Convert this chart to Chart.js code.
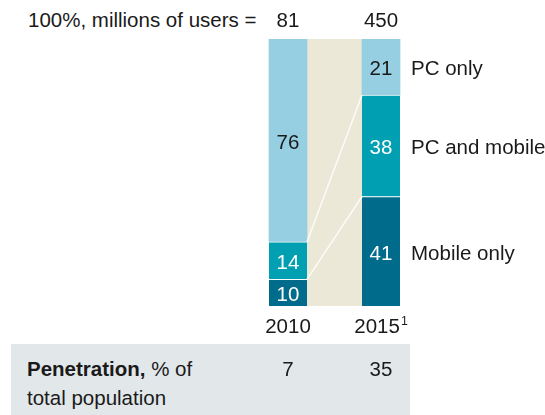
<!DOCTYPE html>
<html>
<head>
<meta charset="utf-8">
<script src="https://cdn.jsdelivr.net/npm/chart.js@4"></script>
<style>
    body { margin: 0; background: #fff; font-family: "Liberation Sans", Arial, sans-serif; color: #1a1a1a; }
    .lienzo { position: relative; width: 545px; height: 415px; overflow: hidden; }
    .titulo { position: absolute; left: 28px; top: 8px; font-size: 20.5px; line-height: 24px; white-space: nowrap; }
    .caja-penetracion { position: absolute; left: 11px; top: 344px; width: 399px; height: 71px; background: #e2e7ea; }
    .texto-penetracion { position: absolute; left: 27px; top: 354px; font-size: 20.5px; line-height: 29px; }
    .texto-penetracion b { font-weight: bold; }
    canvas { position: absolute; left: 0; top: 0; }
</style>
</head>
<body>
<div class="lienzo">
    <div class="caja-penetracion"></div>
    <div class="titulo">100%, millions of users =</div>
    <div class="texto-penetracion"><b>Penetration,</b> % of<br>total population</div>
    <canvas id="graficoUsuarios" width="545" height="415"></canvas>
</div>

<script>
// ==============================================================================
// 1. DATOS DEL GRAFICO
// ==============================================================================

const categorias = ['2010', '2015'];
const notasCategoria = ['', '1'];
const totalUsuarios = [81, 450];
const penetracion = [7, 35];

const soloMovil = [10, 41];
const pcYMovil = [14, 38];
const soloPC = [76, 21];

const nombresSeries = ['Mobile only', 'PC and mobile', 'PC only'];

// ==============================================================================
// 2. ESTILOS
// ==============================================================================

const COLOR_TEXTO = '#1a1a1a';
const FUENTE = '"Liberation Sans", Arial, sans-serif';
const TAM = 20.5;
const coloresSeries = ['#006b8a', '#009fb2', '#96cfe1'];
const coloresEtiqueta = ['#ffffff', '#ffffff', COLOR_TEXTO];

// linea base de texto a partir del centro visual de las cifras
function base(centroY) {
    return centroY + TAM * 0.358;
}

// ==============================================================================
// 3. PLUGIN: banda beige, conectores y textos
// ==============================================================================

const pluginDecoracion = {
    id: 'decoracion',
    beforeDatasetsDraw(chart) {
        const ctx = chart.ctx;
        const area = chart.chartArea;
        const barrasA = chart.getDatasetMeta(0).data;
        const izq = barrasA[0].x + barrasA[0].width / 2;
        const der = barrasA[1].x - barrasA[1].width / 2;
        ctx.save();
        ctx.fillStyle = '#ebe8d8';
        ctx.fillRect(izq, area.top, der - izq, area.bottom - area.top);
        ctx.restore();
    },
    afterDatasetsDraw(chart) {
        const ctx = chart.ctx;
        const area = chart.chartArea;
        ctx.save();

        // lineas que unen el inicio de cada segmento entre ambos anos
        const m0 = chart.getDatasetMeta(0).data;
        ctx.strokeStyle = 'rgba(255,255,255,0.85)';
        ctx.lineWidth = 1.5;
        [1, 2].forEach(i => {
            const d = chart.getDatasetMeta(i).data;
            ctx.beginPath();
            ctx.moveTo(d[0].x + d[0].width / 2, d[0].base);
            ctx.lineTo(d[1].x - d[1].width / 2, d[1].base);
            ctx.stroke();
        });

        ctx.font = TAM + 'px ' + FUENTE;
        ctx.textAlign = 'center';
        ctx.textBaseline = 'alphabetic';

        // valores dentro de cada segmento
        chart.data.datasets.forEach((ds, i) => {
            chart.getDatasetMeta(i).data.forEach((barra, j) => {
                const centro = (barra.y + barra.base) / 2;
                ctx.fillStyle = coloresEtiqueta[i];
                ctx.fillText(String(ds.data[j]), barra.x, base(centro) + 1);
            });
        });

        // nombres de las series al lado derecho de 2015
        ctx.textAlign = 'left';
        ctx.fillStyle = COLOR_TEXTO;
        chart.data.datasets.forEach((ds, i) => {
            const barra = chart.getDatasetMeta(i).data[1];
            const centro = (barra.y + barra.base) / 2;
            ctx.fillText(ds.label, barra.x + barra.width / 2 + 11, base(centro) + 1);
        });

        // totales arriba, anos abajo y penetracion en la caja gris
        const escalaX = chart.scales.x;
        categorias.forEach((cat, j) => {
            const x = escalaX.getPixelForValue(j);
            ctx.font = TAM + 'px ' + FUENTE;
            ctx.textAlign = 'center';
            ctx.fillText(String(totalUsuarios[j]), x, 27);
            ctx.fillText(String(penetracion[j]), x, 376);

            const nota = notasCategoria[j];
            const anchoCat = ctx.measureText(cat).width;
            ctx.font = (TAM * 0.6) + 'px ' + FUENTE;
            const anchoNota = nota ? ctx.measureText(nota).width + 1 : 0;
            const inicio = x - (anchoCat + anchoNota) / 2;
            ctx.textAlign = 'left';
            ctx.font = TAM + 'px ' + FUENTE;
            ctx.fillText(cat, inicio, area.bottom + 27);
            if (nota) {
                ctx.font = (TAM * 0.6) + 'px ' + FUENTE;
                ctx.fillText(nota, inicio + anchoCat + 1, area.bottom + 19);
            }
        });
        ctx.restore();
    }
};

// ==============================================================================
// 4. GENERACION DEL GRAFICO CON CHART.JS
// ==============================================================================

function renderizarGrafico() {
    const ctx = document.getElementById('graficoUsuarios').getContext('2d');
    const series = [soloMovil, pcYMovil, soloPC];

    new Chart(ctx, {
        type: 'bar',
        data: {
            labels: categorias,
            datasets: series.map((valores, i) => ({
                label: nombresSeries[i],
                data: valores,
                backgroundColor: coloresSeries[i],
                borderColor: 'rgba(255,255,255,0.85)',
                borderWidth: { top: i === 2 ? 0 : 1, bottom: 0, left: 0, right: 0 },
                borderSkipped: false,
                barThickness: 38
            }))
        },
        options: {
            responsive: false,
            animation: false,
            layout: {
                padding: { left: 241.5, right: 117.5, top: 39, bottom: 109 }
            },
            scales: {
                x: { stacked: true, display: false },
                y: { stacked: true, display: false, min: 0, max: 100 }
            },
            plugins: {
                legend: { display: false },
                tooltip: { enabled: false }
            }
        },
        plugins: [pluginDecoracion]
    });
}

renderizarGrafico();
</script>
</body>
</html>
